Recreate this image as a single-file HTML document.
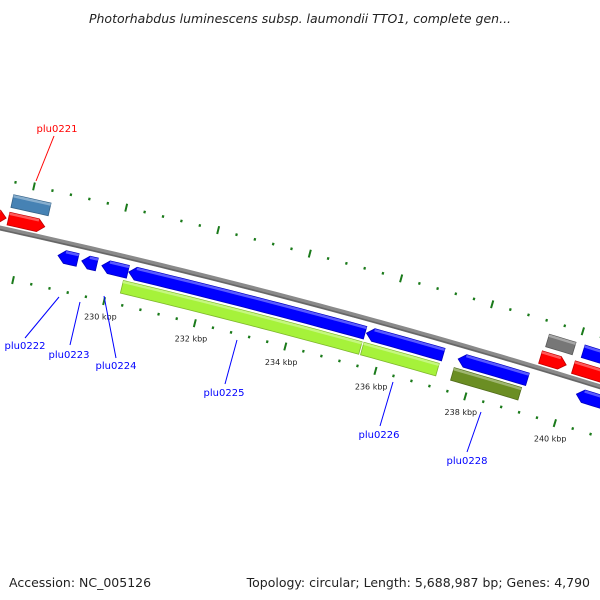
<!DOCTYPE html>
<html><head><meta charset="utf-8"><style>
body{margin:0;background:#fff}
svg{display:block;font-family:"DejaVu Sans","Liberation Sans",sans-serif}
</style></head><body>
<svg id="map" width="600" height="600" viewBox="0 0 600 600">
<text x="300" y="23" text-anchor="middle" font-size="12.5" font-style="italic" fill="#222">Photorhabdus luminescens subsp. laumondii TTO1, complete gen...</text>
<text x="9" y="587" font-size="12.5" fill="#222">Accession: NC_005126</text>
<text x="590" y="587" text-anchor="end" font-size="12.5" fill="#222">Topology: circular; Length: 5,688,987 bp; Genes: 4,790</text>
<g id="marks"></g>
</svg>
<script>
// gene data: [startKbp, endKbp, track, color, arrow]
const geneStarts=[226.9,227.62,227.62,228.82,229.34,229.78,230.37,235.6,237.63,240.26,230.3,235.6,237.6,239.34,239.3,240.03,240.13];
const geneEnds=[227.57,228.41,228.43,229.25,229.67,230.35,235.57,237.3,239.17,242,235.56,237.27,239.1,239.93,239.87,242,242];
const geneTracks=[11,11,29,-14,-14,-14,-14,-14,-14,-14,-30,-30,-30,29,11,11,29];
const geneColors=["#ff0000","#ff0000","#4682b4","#0000ff","#0000ff","#0000ff","#0000ff","#0000ff","#0000ff","#0000ff","#a6f23a","#a6f23a","#6b8e23","#777777","#ff0000","#ff0000","#0000ff"];
const geneArrows=[1,1,0,-1,-1,-1,-1,-1,-1,-1,0,0,0,0,1,1,1];
const tickLabels=["230 kbp","232 kbp","234 kbp","236 kbp","238 kbp","240 kbp"];
const tickValues=[230,232,234,236,238,240];
const calloutNames=["plu0221","plu0222","plu0223","plu0224","plu0225","plu0226","plu0228"];
const calloutColors=["#ff0000","#0000ff","#0000ff","#0000ff","#0000ff","#0000ff","#0000ff"];

const CX=-1591,CY=7455,R=7400;
function ang(k){return (13.33+(k-230)*0.364)*Math.PI/180;}
function pt(k,r){const a=ang(k);return [CX+r*Math.sin(a),CY-r*Math.cos(a)];}
function ptS(k,r){const p=pt(k,r);return p[0].toFixed(2)+","+p[1].toFixed(2);}
const NS="http://www.w3.org/2000/svg";
const g=document.getElementById('marks');
function mk(tag,attrs){const e=document.createElementNS(NS,tag);for(const k in attrs)e.setAttribute(k,attrs[k]);g.appendChild(e);return e;}

// backbone
let bp=[];for(let k=224;k<=243;k+=0.25)bp.push(ptS(k,R));
let bb=mk('polyline',{points:bp.join(' '),fill:'none',stroke:'#8a8a8a','stroke-width':5});


let bp2=[];for(let k=224;k<=243;k+=0.25)bp2.push(ptS(k,R-1.5));
let bb2=mk('polyline',{points:bp2.join(' '),fill:'none',stroke:'#666','stroke-width':1.5});



// ticks
for(let i=0;i<=50;i++){
  const k=224+i*0.4;const major=(Math.round(k*10)%20===0);
  [48,-48].forEach(off=>{
    const len=major?4:1.3;
    const a=pt(k,R+off-len),b=pt(k,R+off+len);
    const t=mk('line',{x1:a[0],y1:a[1],x2:b[0],y2:b[1],stroke:'#1a7a1a','stroke-width':major?2:2.2});
    
    
  });
}
tickValues.forEach((v,i)=>{
  const p=pt(v,R-64);
  const t=mk('text',{x:p[0],y:p[1]+3,'text-anchor':'middle','font-size':8,fill:'#222'});
  t.textContent=tickLabels[i];
  
  
});

// genes
function shade(c,f){const n=parseInt(c.slice(1),16);let r=n>>16,gg=(n>>8)&255,b=n&255;
 const m=x=>Math.max(0,Math.min(255,Math.round(f>1?x+(255-x)*(f-1):x*f)));return `rgb(${m(r)},${m(gg)},${m(b)})`;}
geneStarts.forEach((s,i)=>{
  const e=geneEnds[i],off=geneTracks[i],w=6.5,ar=geneArrows[i],ah=0.15;
  const ro=R+off+w,ri=R+off-w,rm=R+off;
  let s2=s,e2=e;if(ar===1)e2=Math.max(s,e-ah);if(ar===-1)s2=Math.min(e,s+ah);
  const outer=[],inner=[];const n=Math.max(2,Math.ceil((e2-s2)/0.25));
  for(let j=0;j<=n;j++){const k=s2+(e2-s2)*j/n;outer.push(ptS(k,ro));inner.unshift(ptS(k,ri));}
  let pts=[];
  if(ar===-1)pts.push(ptS(s,rm));
  pts=pts.concat(outer);
  if(ar===1)pts.push(ptS(e,rm));
  pts=pts.concat(inner);
  const poly=mk('polygon',{points:pts.join(' '),fill:geneColors[i],stroke:shade(geneColors[i],0.75),'stroke-width':0.8});
  
  
  // highlight strip
  const hl=[];for(let j=0;j<=n;j++){const k=s2+(e2-s2)*j/n;hl.push(ptS(k,ro-1.5));}
  const h=mk('polyline',{points:hl.join(' '),fill:'none',stroke:shade(geneColors[i],1.35),'stroke-width':2.5});
  
  
});

// callouts
const cl=[[54,136,36,181,57,132],[59,297,25,338,25,349],[80,302,70,345,69,358],[104,296,116,358,116,369],[237,340,225,384,224,396],[393,382,380,426,379,438],[481,412,467,452,467,464]];
calloutNames.forEach((nm,i)=>{
  const c=cl[i];
  const l=mk('line',{x1:c[0],y1:c[1],x2:c[2],y2:c[3],stroke:calloutColors[i],'stroke-width':1});
  
  
  const t=mk('text',{x:c[4],y:c[5],'text-anchor':'middle','font-size':10,fill:calloutColors[i]});
  t.textContent=nm;
  
  
});
</script>
</body></html>
